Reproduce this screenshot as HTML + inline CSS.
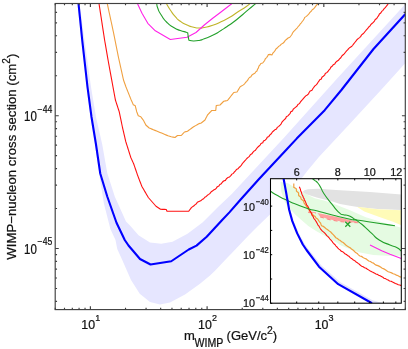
<!DOCTYPE html>
<html><head><meta charset="utf-8"><title>WIMP-nucleon cross section</title>
<style>html,body{margin:0;padding:0;background:#fff;overflow:hidden}svg{display:block;will-change:transform}text{font-family:"Liberation Sans",sans-serif}</style></head>
<body>
<svg width="408" height="349" viewBox="0 0 408 349">
<rect width="408" height="349" fill="#fff"/>
<defs><clipPath id="cm"><rect x="55.2" y="3.5" width="350.1" height="306.1"/></clipPath><clipPath id="ci"><rect x="270.5" y="178.7" width="130.8" height="124.5"/></clipPath></defs>
<g clip-path="url(#cm)" fill="none" stroke-linejoin="round">
<path d="M79.50,3.50 L91.00,87.00 L96.00,117.00 L102.25,144.50 L107.25,173.00 L114.75,196.50 L126.00,221.50 L130.00,225.50 L138.50,235.25 L150.00,242.50 L161.25,243.75 L172.50,241.75 L187.50,233.75 L202.50,222.50 L217.50,207.50 L232.00,193.75 L257.50,166.25 L284.20,137.50 L335.80,80.00 L405.40,4.00 L405.40,63.00 L381.00,90.00 L347.80,126.10 L318.90,157.00 L307.30,171.00 L300.00,180.50 L270.50,214.00 L258.00,226.00 L248.30,235.80 L231.70,253.30 L227.50,257.50 L215.00,270.80 L210.00,275.60 L200.00,283.75 L185.00,294.50 L170.00,302.50 L160.00,304.50 L150.00,302.00 L139.75,293.75 L131.00,280.00 L122.25,260.00 L117.25,249.00 L115.50,240.00 L110.40,229.00 L104.00,204.00 L100.30,181.50 L99.25,173.50 L95.00,144.50 L90.50,117.00 L86.50,87.00 L81.20,40.00 L79.20,20.00 L77.50,3.50Z" fill="#e6e6ff" stroke="none"/>
<path d="M166.20,3.30C167.57,5.53 167.27,5.53 170.30,10.00C173.33,14.47 171.97,12.93 175.30,16.70C178.63,20.47 176.40,18.53 180.30,21.30C184.20,24.07 182.53,23.03 187.00,25.00C191.47,26.97 189.37,26.20 193.70,27.20C198.03,28.20 196.47,27.90 200.00,28.00C203.53,28.10 200.07,28.40 204.30,27.50C208.53,26.60 207.13,27.23 212.70,25.30C218.27,23.37 215.47,24.30 221.00,21.70C226.53,19.10 223.73,20.73 229.30,17.50C234.87,14.27 232.13,15.60 237.70,12.00C243.27,8.40 241.83,9.60 246.00,6.70C250.17,3.80 248.80,4.43 250.20,3.30" stroke="#c0b428" stroke-width="1.1"/>
<path d="M137.30,3.30 L142.00,13.30 L147.80,23.30 L155.30,30.80 L170.30,39.50 L187.00,37.20 L196.00,32.50 L204.30,25.00 L212.70,18.30 L221.00,12.00 L232.30,3.30" stroke="#ff22e8" stroke-width="1.1"/>
<path d="M156.70,3.30C157.07,4.97 156.30,4.40 157.80,8.30C159.30,12.20 158.13,10.27 161.20,15.00C164.27,19.73 162.83,18.33 167.00,22.50C171.17,26.67 169.27,24.83 173.70,27.50C178.13,30.17 176.13,28.93 180.30,30.50C184.47,32.07 183.70,31.27 186.20,32.20C188.70,33.13 187.27,32.93 187.80,33.30 L188.3,37.5 L189.00,40.30C190.57,40.53 190.03,41.03 193.70,41.00C197.37,40.97 196.47,40.97 200.00,40.20C203.53,39.43 200.07,40.33 204.30,38.70C208.53,37.07 207.13,38.03 212.70,35.30C218.27,32.57 215.47,33.93 221.00,30.50C226.53,27.07 223.73,28.93 229.30,25.00C234.87,21.07 232.13,23.13 237.70,18.70C243.27,14.27 241.57,15.43 246.00,11.70C250.43,7.97 247.67,10.30 251.00,7.50C254.33,4.70 254.33,4.70 256.00,3.30" stroke="#22a02a" stroke-width="1.1"/>
<path d="M107.25,3.50 L107.62,5.21 L107.99,6.91 L108.35,8.62 L108.72,10.32 L109.09,12.03 L109.46,13.74 L109.82,15.44 L110.19,17.15 L110.56,18.85 L110.93,20.56 L111.29,22.26 L111.66,23.97 L112.03,25.68 L112.40,27.38 L112.76,29.09 L113.13,30.79 L113.50,32.50 L113.83,34.17 L114.17,35.83 L114.50,37.50 L114.83,39.17 L115.17,40.83 L115.50,42.50 L115.83,44.17 L116.17,45.83 L116.50,47.50 L116.83,49.17 L117.17,50.83 L117.50,52.50 L117.83,54.17 L118.17,55.83 L118.50,57.50 L118.86,59.11 L119.21,60.71 L119.57,62.32 L119.93,63.93 L120.29,65.54 L120.64,67.14 L121.00,68.75 L121.36,70.36 L121.71,71.96 L122.07,73.57 L122.43,75.18 L122.79,76.79 L123.14,78.39 L123.50,80.00 L124.12,81.75 L124.75,83.50 L125.38,85.25 L126.00,87.00 L126.65,88.62 L127.30,90.25 L127.95,91.88 L128.60,93.50 L129.25,95.12 L129.90,96.75 L130.55,98.38 L131.20,100.00 L131.90,101.57 L132.60,103.13 L133.30,104.70 L135.30,105.80 L135.65,107.28 L136.00,108.75 L136.35,110.22 L136.70,111.70 L137.23,113.07 L137.77,114.43 L138.30,115.80 L139.55,116.25 L140.80,116.70 L141.77,118.07 L142.73,119.43 L143.70,120.80 L144.40,122.20 L145.10,123.60 L145.80,125.00 L146.93,126.00 L148.07,127.00 L149.20,128.00 L150.57,128.57 L151.93,129.13 L153.30,129.70 L154.97,130.37 L156.63,131.03 L158.30,131.70 L159.97,132.40 L161.63,133.10 L163.30,133.80 L164.87,134.47 L166.43,135.13 L168.00,135.80 L169.62,136.28 L171.25,136.75 L173.12,137.12 L175.00,137.50 L176.25,136.50 L177.50,135.50 L179.38,135.50 L181.25,135.50 L182.33,134.33 L183.42,133.17 L184.50,132.00 L186.00,131.62 L187.50,131.25 L188.75,130.31 L190.00,129.38 L191.25,128.44 L192.50,127.50 L194.06,126.56 L195.62,125.62 L197.19,124.69 L198.75,123.75 L200.00,123.38 L201.25,123.00 L202.50,122.00 L203.75,121.00 L205.00,120.00 L205.83,118.33 L206.67,116.67 L207.50,115.00 L208.56,113.88 L209.62,112.75 L210.69,111.62 L211.75,110.50 L213.75,110.50 L215.75,110.50 L215.92,108.83 L216.08,107.17 L216.25,105.50 L218.12,105.25 L220.00,105.00 L221.25,103.75 L222.50,102.50 L223.75,101.25 L225.62,100.88 L227.50,100.50 L228.54,99.17 L229.58,97.83 L230.62,96.50 L231.67,95.17 L232.71,93.83 L233.75,92.50 L235.38,92.25 L237.00,92.00 L237.80,90.67 L238.60,89.35 L239.40,88.03 L240.20,86.70 L241.85,85.85 L243.39,84.85 L244.56,83.81 L245.51,82.52 L246.67,81.41 L247.72,80.21 L248.46,78.74 L249.47,77.50 L250.94,76.67 L251.69,75.17 L253.38,74.05 L254.85,73.31 L255.69,71.92 L256.99,70.94 L257.57,69.29 L258.45,67.84 L258.92,66.19 L260.00,64.84 L260.84,63.52 L262.71,63.01 L263.81,61.71 L264.73,60.30 L265.35,58.68 L266.71,57.57 L267.59,56.12 L268.43,54.58 L270.15,54.37 L271.92,54.92 L272.83,53.19 L274.03,51.79 L275.17,50.35 L276.11,48.80 L277.53,47.78 L278.63,46.36 L280.16,45.44 L281.33,44.11 L282.90,43.23 L284.26,42.00 L285.28,40.39 L286.68,39.21 L288.10,38.05 L289.83,37.25 L290.97,35.77 L291.91,34.48 L292.55,32.99 L293.50,31.70 L294.82,30.29 L296.17,28.93 L297.27,27.76 L298.24,26.48 L299.39,25.34 L300.24,23.97 L301.35,22.79 L302.28,21.48 L303.33,20.26 L304.12,18.85 L304.82,17.35 L306.41,16.40 L307.69,15.18 L308.89,13.88 L309.94,12.44 L311.24,11.24 L312.22,9.72 L313.76,8.75 L314.86,7.35 L315.94,5.94 L317.05,4.56 L318.50,3.50" stroke="#f0a040" stroke-width="1.1"/>
<path d="M99.00,3.50 L99.25,5.16 L99.51,6.82 L99.76,8.48 L100.02,10.14 L100.27,11.80 L100.53,13.45 L100.78,15.11 L101.04,16.77 L101.29,18.43 L101.55,20.09 L101.80,21.75 L102.05,23.41 L102.31,25.07 L102.56,26.73 L102.82,28.39 L103.07,30.05 L103.33,31.70 L103.58,33.36 L103.84,35.02 L104.09,36.68 L104.35,38.34 L104.60,40.00 L104.90,41.73 L105.20,43.46 L105.50,45.19 L105.80,46.92 L106.10,48.65 L106.40,50.38 L106.70,52.12 L107.00,53.85 L107.30,55.58 L107.60,57.31 L107.90,59.04 L108.20,60.77 L108.50,62.50 L108.80,64.13 L109.10,65.77 L109.40,67.40 L109.70,69.03 L110.00,70.67 L110.30,72.30 L110.60,73.93 L110.90,75.57 L111.20,77.20 L111.50,78.83 L111.80,80.47 L112.10,82.10 L112.40,83.73 L112.70,85.37 L113.00,87.00 L113.30,88.62 L113.60,90.25 L113.90,91.88 L114.20,93.50 L114.50,95.12 L114.80,96.75 L115.10,98.38 L115.40,100.00 L115.94,101.67 L116.49,103.34 L117.03,105.01 L117.57,106.69 L118.11,108.36 L118.66,110.03 L119.20,111.70 L119.57,113.46 L119.93,115.21 L120.30,116.97 L120.67,118.72 L121.03,120.48 L121.40,122.23 L121.77,123.99 L122.13,125.74 L122.50,127.50 L122.87,129.08 L123.23,130.66 L123.60,132.23 L123.97,133.81 L124.33,135.39 L124.70,136.97 L125.07,138.54 L125.43,140.12 L125.80,141.70 L126.30,143.28 L126.80,144.86 L127.30,146.44 L127.80,148.02 L128.30,149.60 L128.80,151.18 L129.30,152.76 L129.80,154.34 L130.30,155.92 L130.80,157.50 L131.54,159.12 L132.28,160.75 L133.01,162.38 L133.75,164.00 L134.29,165.57 L134.82,167.14 L135.36,168.71 L135.89,170.29 L136.43,171.86 L136.96,173.43 L137.50,175.00 L138.11,176.61 L138.73,178.21 L139.34,179.82 L139.96,181.43 L140.57,183.04 L141.19,184.64 L141.80,186.25 L142.61,187.66 L143.43,189.06 L144.24,190.47 L145.05,191.88 L145.86,193.28 L146.68,194.69 L147.49,196.09 L148.30,197.50 L149.40,198.75 L150.50,200.00 L151.60,201.25 L152.70,202.50 L153.80,203.75 L154.90,205.00 L156.00,206.25 L157.50,207.25 L159.00,208.25 L160.50,209.25 L162.42,209.33 L164.33,209.42 L166.25,209.50 L167.00,211.25 L168.67,211.25 L170.35,211.25 L172.02,211.25 L173.69,211.25 L175.37,211.25 L177.04,211.25 L178.71,211.25 L180.38,211.25 L182.06,211.25 L183.73,211.25 L185.40,211.25 L187.08,211.25 L188.75,211.25 L189.58,210.00 L190.50,208.80 L191.39,207.63 L192.65,206.68 L193.97,205.78 L195.12,204.65 L196.46,203.76 L197.28,202.20 L198.98,201.48 L200.70,200.80 L202.07,199.60 L203.68,198.77 L204.82,197.25 L206.23,196.44 L207.37,195.26 L208.77,194.40 L210.04,193.38 L211.00,191.99 L212.35,191.08 L213.63,190.02 L215.22,189.31 L216.39,188.13 L217.32,186.67 L218.91,185.96 L219.81,184.47 L221.31,183.66 L222.30,182.27 L223.60,181.02 L225.41,180.37 L226.42,178.79 L227.78,177.61 L229.54,176.90 L230.84,175.65 L231.89,174.13 L233.40,173.37 L234.31,171.99 L235.53,170.92 L236.40,169.51 L237.96,168.79 L238.96,167.50 L240.27,166.51 L241.41,165.22 L242.24,163.64 L243.45,162.42 L244.51,161.07 L245.68,159.81 L246.81,158.51 L248.12,157.39 L249.47,156.31 L250.30,154.73 L251.87,153.85 L252.85,152.41 L254.01,151.15 L255.48,150.17 L256.46,148.74 L257.54,147.40 L258.81,146.24 L260.12,145.11 L261.00,143.50 L262.77,142.77 L263.48,140.98 L265.14,140.14 L266.45,138.95 L267.23,137.23 L268.91,136.41 L269.92,134.92 L271.29,133.79 L272.22,132.22 L273.49,130.99 L274.82,129.82 L276.51,129.01 L277.32,127.33 L278.79,126.33 L280.03,125.11 L281.18,123.80 L281.95,122.18 L283.09,120.88 L284.33,119.66 L285.62,118.48 L286.35,116.82 L287.88,115.85 L289.04,114.56 L290.21,113.29 L290.87,111.63 L292.54,110.91 L293.19,109.23 L294.48,108.15 L295.78,107.08 L297.10,106.03 L297.90,104.50 L299.38,103.61 L300.31,102.18 L301.31,100.84 L302.46,99.63 L303.52,98.33 L304.60,97.06 L305.78,95.89 L307.24,94.97 L308.56,93.92 L309.22,92.25 L310.29,90.97 L311.99,90.26 L312.76,88.77 L313.72,87.45 L314.65,86.12 L315.91,85.05 L317.09,83.92 L317.90,82.48 L318.91,81.21 L319.73,79.77 L321.35,78.97 L321.92,77.25 L323.30,76.25 L324.60,75.18 L325.28,73.55 L326.74,72.62 L327.97,71.49 L328.88,70.07 L330.07,68.90 L330.77,67.29 L332.15,66.21 L333.18,64.81 L334.77,63.94 L335.64,62.39 L336.93,61.22 L338.43,60.28 L339.54,58.94 L340.80,57.76 L341.69,56.22 L342.90,54.99 L344.23,53.88 L345.27,52.49 L346.36,51.13 L347.61,49.95 L348.65,48.55 L349.98,47.43 L351.52,46.52 L352.69,45.25 L353.69,43.82 L354.81,42.50 L355.91,41.16 L356.90,39.76 L358.15,38.60 L359.60,37.60 L360.79,36.38 L361.64,34.85 L363.03,33.81 L364.17,32.54 L365.27,31.23 L366.39,29.95 L367.59,28.73 L368.50,27.25 L369.85,26.17 L370.74,24.68 L372.00,23.52 L373.32,22.41 L374.42,21.10 L375.25,19.55 L376.73,18.53 L377.62,17.04 L378.66,15.66 L379.38,14.03 L380.79,12.95 L381.68,11.45 L383.02,10.32 L383.97,8.87 L385.27,7.70 L386.24,6.27 L387.41,4.99 L388.30,3.50" stroke="#ff1010" stroke-width="1.1"/>
<path d="M78.50,3.50 L80.20,20.00 L82.20,40.00 L87.50,87.00 L91.50,117.00 L96.00,144.50 L100.25,173.50 L107.25,196.50 L116.50,222.75 L124.75,240.00 L128.50,245.50 L140.00,259.00 L150.50,264.50 L171.25,261.25 L188.75,249.50 L196.50,245.60 L206.70,236.70 L221.70,220.50 L229.40,212.40 L240.00,200.30 L258.80,179.30 L270.00,167.20 L286.80,149.30 L296.70,138.60 L324.70,110.20 L341.40,90.00 L373.50,49.00 L405.40,14.00" stroke="#0000ff" stroke-width="2.1"/>
</g>
<g stroke="#404040" stroke-width="1.15" fill="none">
<rect x="55.2" y="3.5" width="350.1" height="306.1"/>
<path d="M55.25,309.65v-1.80M55.25,3.50v1.80M64.49,309.65v-1.80M64.49,3.50v1.80M72.31,309.65v-1.80M72.31,3.50v1.80M79.07,309.65v-1.80M79.07,3.50v1.80M85.04,309.65v-1.80M85.04,3.50v1.80M90.39,309.65v-3.50M90.39,3.50v3.50M125.52,309.65v-1.80M125.52,3.50v1.80M146.07,309.65v-1.80M146.07,3.50v1.80M160.66,309.65v-1.80M160.66,3.50v1.80M171.97,309.65v-1.80M171.97,3.50v1.80M181.21,309.65v-1.80M181.21,3.50v1.80M189.02,309.65v-1.80M189.02,3.50v1.80M195.79,309.65v-1.80M195.79,3.50v1.80M201.76,309.65v-1.80M201.76,3.50v1.80M207.10,309.65v-3.50M207.10,3.50v3.50M242.24,309.65v-1.80M242.24,3.50v1.80M262.79,309.65v-1.80M262.79,3.50v1.80M277.37,309.65v-1.80M277.37,3.50v1.80M288.68,309.65v-1.80M288.68,3.50v1.80M297.93,309.65v-1.80M297.93,3.50v1.80M305.74,309.65v-1.80M305.74,3.50v1.80M312.51,309.65v-1.80M312.51,3.50v1.80M318.48,309.65v-1.80M318.48,3.50v1.80M323.82,309.65v-3.50M323.82,3.50v3.50M358.95,309.65v-1.80M358.95,3.50v1.80M379.51,309.65v-1.80M379.51,3.50v1.80M394.09,309.65v-1.80M394.09,3.50v1.80M405.40,309.65v-1.80M405.40,3.50v1.80M55.25,301.35h1.80M405.40,301.35h-1.80M55.25,288.48h1.80M405.40,288.48h-1.80M55.25,277.96h1.80M405.40,277.96h-1.80M55.25,269.07h1.80M405.40,269.07h-1.80M55.25,261.37h1.80M405.40,261.37h-1.80M55.25,254.58h1.80M405.40,254.58h-1.80M55.25,248.50h3.50M405.40,248.50h-3.50M55.25,208.52h1.80M405.40,208.52h-1.80M55.25,185.14h1.80M405.40,185.14h-1.80M55.25,168.55h1.80M405.40,168.55h-1.80M55.25,155.68h1.80M405.40,155.68h-1.80M55.25,145.16h1.80M405.40,145.16h-1.80M55.25,136.27h1.80M405.40,136.27h-1.80M55.25,128.57h1.80M405.40,128.57h-1.80M55.25,121.78h1.80M405.40,121.78h-1.80M55.25,115.70h3.50M405.40,115.70h-3.50M55.25,75.72h1.80M405.40,75.72h-1.80M55.25,52.34h1.80M405.40,52.34h-1.80M55.25,35.75h1.80M405.40,35.75h-1.80M55.25,22.88h1.80M405.40,22.88h-1.80M55.25,12.36h1.80M405.40,12.36h-1.80"/>
</g>
<rect x="270.5" y="178.7" width="130.8" height="124.5" fill="#fff"/>
<g clip-path="url(#ci)" fill="none" stroke-linejoin="round">
<path d="M280.50,182.00 L288.00,183.30 L301.30,191.70 L314.70,198.20 L325.00,200.80 L336.00,204.80 L350.00,210.20 L365.80,217.30 L383.00,222.50 L401.30,227.80 L401.30,255.80 L386.70,255.80 L373.30,255.00 L360.00,252.50 L350.00,249.20 L340.00,245.00 L336.00,241.90 L330.20,238.90 L324.30,235.40 L316.90,231.60 L308.30,226.00 L299.70,218.60 L295.50,214.80 L292.00,211.00 L288.00,207.00 L284.70,201.70 L281.30,191.70Z" fill="#e5fbe2" stroke="none"/>
<path d="M302.60,192.00 L304.50,190.20 L308.00,189.30 L318.00,188.80 L336.00,190.00 L370.00,192.00 L401.30,194.50 L401.30,210.00 L377.70,209.00 L357.70,207.00 L350.00,205.80 L340.00,204.00 L333.30,201.80 L316.70,197.50 L306.30,194.20Z" fill="#e2e2e2" stroke="none"/>
<path d="M357.00,206.80 L377.70,209.20 L401.30,210.30 L401.30,225.30 L393.00,221.80 L378.70,216.70 L364.30,211.60Z" fill="#fffbb8" stroke="none"/>
<path d="M317.50,213.00 L333.30,216.30 L350.00,220.00 L358.50,221.80 L355.00,222.40 L350.00,222.20 L340.00,221.20 L330.00,219.40 L320.00,216.60Z" fill="#ffa0a0" stroke="none"/>
<path d="M308.30,211.30 L315.80,212.30 L315.80,213.30 L308.30,212.60Z" fill="#ffa0a0" stroke="none"/>
<path d="M308.3,212.5L315.8,213.2M320,216.9L330,219.8L340,221.6L350,222.5L361,222.8" stroke="#ff7878" stroke-width="0.9" stroke-dasharray="4,3"/>
<path d="M284.80,178.70 L287.20,191.70 L289.20,203.30 L290.50,210.00 L293.80,221.10 L298.80,233.00 L304.60,243.80 L308.50,249.20 L321.00,265.00 L340.00,282.00 L372.50,300.20 L383.00,303.30 L372.00,303.30 L370.70,302.50 L338.20,284.20 L319.00,266.70 L306.50,250.00 L302.80,244.50 L297.20,233.40 L292.30,221.10 L289.20,210.00 L288.00,203.30 L286.00,191.70 L283.60,178.70Z" fill="#e2e2fc" stroke="none"/>
<path d="M370.00,245.00 L381.70,250.80 L390.00,254.20 L401.30,258.50" stroke="#ff22e8" stroke-width="1.1"/>
<path d="M293.80,183.40 L293.80,185.35 L293.80,187.30 L295.05,188.05 L296.30,188.80 L296.50,191.20 L298.50,192.70 L298.60,194.15 L298.70,195.60 L300.70,197.10 L301.20,199.10 L302.40,200.05 L303.60,201.00 L304.10,203.00 L305.30,204.70 L306.50,206.40 L307.50,207.90 L308.50,209.40 L309.50,210.60 L310.50,211.80 L311.75,213.40 L313.02,214.98 L314.05,215.79 L315.15,216.54 L316.01,218.10 L317.57,219.00 L318.52,220.45 L319.50,221.84 L320.59,222.96 L321.00,224.45 L321.65,225.85 L323.34,226.41 L324.74,227.44 L326.13,228.70 L327.72,229.68 L329.11,230.90 L330.71,232.06 L332.05,233.49 L333.46,234.83 L334.65,236.25 L335.84,237.70 L337.39,238.59 L338.75,239.73 L340.32,240.59 L341.61,241.82 L343.23,242.56 L344.54,243.70 L345.79,244.93 L347.15,246.01 L348.65,246.91 L350.15,247.80 L351.51,249.00 L352.96,250.09 L354.37,251.24 L355.60,252.60 L357.25,253.43 L358.43,254.87 L359.87,255.99 L361.61,256.40 L362.99,257.40 L364.44,258.30 L366.05,258.88 L367.41,259.93 L368.75,261.01 L370.46,261.43 L371.79,262.52 L373.41,263.10 L374.77,264.17 L376.16,265.17 L377.85,265.64 L379.40,266.38 L380.87,267.25 L382.22,268.32 L383.86,268.88 L385.33,269.75 L386.70,270.80 L388.22,271.75 L389.96,272.20 L391.59,272.91 L393.16,273.76 L394.91,274.19 L396.41,275.18 L398.14,275.68 L399.65,276.64 L401.30,277.30" stroke="#f0a040" stroke-width="1.2" stroke-linejoin="miter"/>
<path d="M299.30,186.70 L299.87,188.05 L300.43,189.41 L300.68,190.87 L301.44,192.16 L301.70,193.62 L302.26,194.98 L302.95,196.16 L303.30,197.50 L304.06,198.66 L304.43,199.99 L305.15,201.16 L305.68,202.41 L306.23,203.73 L306.76,205.08 L307.76,206.16 L308.42,207.43 L308.94,208.78 L309.50,210.10 L310.49,211.69 L311.40,213.33 L311.96,215.13 L313.20,216.59 L313.72,218.24 L314.84,219.55 L315.78,220.96 L316.66,222.40 L317.38,223.70 L317.97,225.09 L319.03,226.16 L319.67,227.52 L320.44,228.79 L321.35,229.96 L322.40,231.13 L323.69,232.08 L324.81,233.19 L325.87,234.36 L326.82,235.65 L328.03,236.68 L329.07,237.80 L329.97,239.05 L331.02,240.17 L332.08,241.28 L332.89,242.61 L333.92,243.74 L335.10,244.75 L335.97,246.03 L336.99,247.01 L337.87,248.13 L338.92,249.08 L340.07,249.92 L341.11,251.11 L342.61,251.67 L343.77,252.70 L344.92,253.75 L346.35,254.42 L347.50,255.47 L348.89,256.20 L349.95,257.37 L351.09,258.28 L352.32,259.07 L353.40,260.06 L354.74,260.71 L355.79,261.73 L356.99,262.56 L358.17,263.42 L359.37,264.24 L360.43,265.27 L361.58,266.19 L363.16,266.80 L364.56,267.70 L366.16,268.25 L367.45,269.34 L368.91,270.13 L370.28,271.09 L371.77,271.83 L373.35,272.41 L374.67,273.15 L375.94,273.97 L377.43,274.39 L378.67,275.28 L380.08,275.85 L381.43,276.53 L382.78,277.20 L383.96,278.22 L385.45,278.64 L386.75,279.39 L388.18,280.08 L389.55,280.93 L391.16,281.20 L392.55,282.00 L393.99,282.67 L395.38,283.46 L396.86,284.06 L398.31,284.71 L399.88,285.07 L401.30,285.80" stroke="#ff1010" stroke-width="1.1"/>
<path d="M270.50,191.30C273.00,192.80 272.17,192.63 278.00,195.80C283.83,198.97 281.33,197.73 288.00,200.80C294.67,203.87 290.77,202.20 298.00,205.00C305.23,207.80 303.47,207.27 309.70,209.20C315.93,211.13 308.83,208.77 316.70,210.80C324.57,212.83 322.20,212.50 333.30,215.30C344.40,218.10 342.20,217.63 350.00,219.20C357.80,220.77 348.93,218.90 356.70,220.00C364.47,221.10 360.53,220.57 373.30,222.50C386.07,224.43 387.77,224.70 395.00,225.80" stroke="#22a02a" stroke-width="1.1"/>
<path d="M312.30,178.50C313.20,179.20 313.17,179.10 315.00,180.60C316.83,182.10 315.80,180.53 317.80,183.00C319.80,185.47 318.93,184.43 321.00,188.00C323.07,191.57 320.37,188.30 324.00,193.70C327.63,199.10 326.97,198.00 331.90,204.20C336.83,210.40 334.97,208.77 338.80,212.30C342.63,215.83 340.33,213.73 343.40,214.80C346.47,215.87 344.53,214.23 348.00,215.50C351.47,216.77 349.93,216.23 353.80,218.60C357.67,220.97 355.77,219.70 359.60,222.60C363.43,225.50 361.17,223.63 365.30,227.30C369.43,230.97 367.37,229.37 372.00,233.60C376.63,237.83 373.20,236.20 379.20,240.00C385.20,243.80 384.17,242.50 390.00,245.00C395.83,247.50 392.93,245.50 396.70,247.50C400.47,249.50 399.77,249.83 401.30,251.00" stroke="#22a02a" stroke-width="1.1"/>
<path d="M345.3,221.7l5,5M350.3,221.7l-5,5" stroke="#22a02a" stroke-width="1.25"/>
<path d="M283.60,178.70 L286.00,191.70 L288.00,203.30 L289.20,210.00 L292.30,221.10 L297.20,233.40 L302.80,244.50 L306.50,250.00 L319.00,266.70 L338.20,284.20 L370.70,302.50 L372.00,303.30" stroke="#0000ff" stroke-width="2.1"/>
</g>
<g stroke="#000" stroke-width="1.05" fill="none">
<rect x="270.5" y="178.7" width="130.8" height="124.5"/>
<path d="M296.70,178.70v1.7M296.70,303.20v-1.7M318.75,178.70v1.7M318.75,303.20v-1.7M337.84,178.70v1.7M337.84,303.20v-1.7M354.69,178.70v1.7M354.69,303.20v-1.7M369.75,178.70v1.7M369.75,303.20v-1.7M383.39,178.70v1.7M383.39,303.20v-1.7M395.83,178.70v1.7M395.83,303.20v-1.7M270.50,206.10h1.7M270.50,230.40h1.7M270.50,254.70h1.7M270.50,279.00h1.7M270.50,303.30h1.7" stroke-width="1"/>
</g>
<g font-family="Liberation Sans, sans-serif" fill="#111" stroke="#111" stroke-width="0.22" paint-order="stroke">
<text transform="translate(81.29,328.80) scale(1.000,1.060)" font-size="12.4">10</text><text transform="translate(95.17,320.60) scale(1.000,1.020)" font-size="9.0">1</text>
<text transform="translate(198.00,328.80) scale(1.000,1.060)" font-size="12.4">10</text><text transform="translate(211.89,320.60) scale(1.000,1.020)" font-size="9.0">2</text>
<text transform="translate(314.72,328.80) scale(1.000,1.060)" font-size="12.4">10</text><text transform="translate(328.61,320.60) scale(1.000,1.020)" font-size="9.0">3</text>
<text transform="translate(24.00,120.60) scale(0.930,1.110)" font-size="12.4">10</text><text transform="translate(37.62,112.50) scale(0.960,1.120)" font-size="9.0">−44</text>
<text transform="translate(24.00,253.50) scale(0.930,1.110)" font-size="12.4">10</text><text transform="translate(37.62,245.40) scale(0.960,1.120)" font-size="9.0">−45</text>
<text transform="translate(243.00,211.10) scale(1.000,1.060)" font-size="10.8">10</text><text transform="translate(255.81,204.60) scale(0.920,1.120)" font-size="8.3">−40</text>
<text transform="translate(243.00,259.30) scale(1.000,1.060)" font-size="10.8">10</text><text transform="translate(255.81,252.80) scale(0.920,1.120)" font-size="8.3">−42</text>
<text transform="translate(243.00,307.00) scale(1.000,1.060)" font-size="10.8">10</text><text transform="translate(255.81,300.50) scale(0.920,1.120)" font-size="8.3">−44</text>
<text transform="translate(296.70,176.3) scale(1,1.05)" font-size="10.8" text-anchor="middle">6</text>
<text transform="translate(337.84,176.3) scale(1,1.05)" font-size="10.8" text-anchor="middle">8</text>
<text transform="translate(369.75,176.3) scale(1,1.05)" font-size="10.8" text-anchor="middle">10</text>
<text transform="translate(396.23,176.3) scale(1,1.05)" font-size="10.8" text-anchor="middle">12</text>
<text x="184.0" y="340.1" font-size="13">m</text>
<text transform="translate(194.6,346.8) scale(1,1.12)" font-size="10.6">WIMP</text>
<text x="226.6" y="340.1" font-size="13">(GeV/c</text>
<text x="267.1" y="334.0" font-size="10.4">2</text>
<text x="272.8" y="340.1" font-size="13">)</text>
<text transform="translate(15.7,259.7) rotate(-90)" font-size="13.2">WIMP−nucleon cross section (cm<tspan font-size="10" dy="-5.5">2</tspan><tspan dy="5.5">)</tspan></text>
</g>
</svg>
</body></html>
